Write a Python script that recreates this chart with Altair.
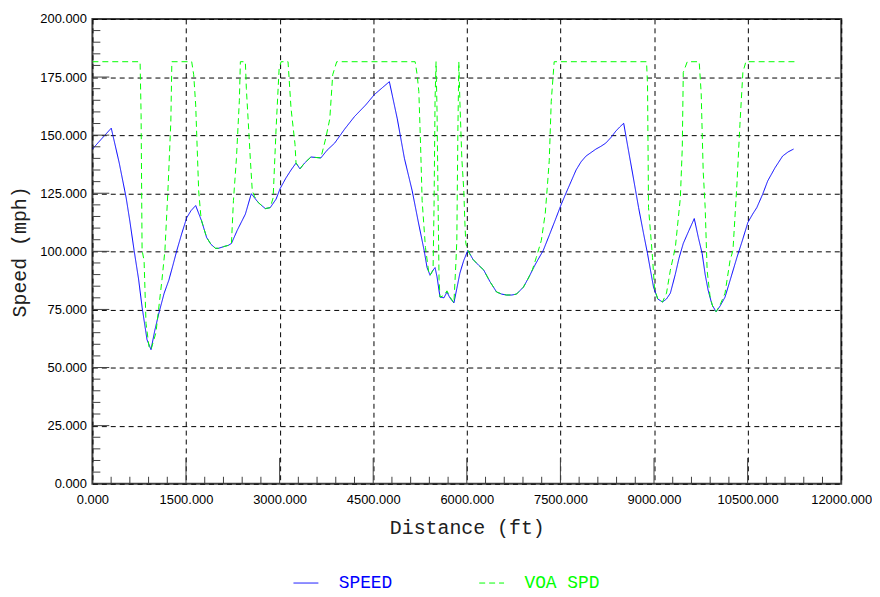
import altair as alt
import pandas as pd

# ---------------- data ----------------
speed_ft = [0, 150, 302, 430, 541, 600, 668, 740, 796, 875, 939, 1000, 1066, 1150, 1225, 1290,
            1353, 1430, 1512, 1580, 1655, 1751, 1830, 1900, 1973, 2021, 2100, 2180, 2228, 2320,
            2451, 2546, 2658, 2770, 2849, 2944, 3008, 3100, 3183, 3263, 3326, 3400, 3502, 3580,
            3661, 3760, 3883, 4042, 4200, 4380, 4520, 4650, 4759, 4886, 5000, 5125, 5220, 5316,
            5363, 5411, 5459, 5491, 5523, 5570, 5634, 5682, 5729, 5793, 5840, 5889, 5950, 6016,
            6100, 6190, 6270, 6370, 6477, 6560, 6637, 6720, 6796, 6907, 6987, 7100, 7225, 7330,
            7432, 7510, 7592, 7670, 7751, 7830, 7910, 7990, 8069, 8150, 8228, 8310, 8387, 8450,
            8514, 8580, 8658, 8753, 8830, 8896, 8992, 9060, 9135, 9200, 9262, 9340, 9400, 9469,
            9560, 9645, 9710, 9772, 9820, 9867, 9930, 9995, 10060, 10138, 10230, 10329, 10420,
            10504, 10580, 10647, 10740, 10822, 10940, 11061, 11150, 11236]
speed_mph = [144, 148.5, 153, 138, 123, 113, 100.4, 88, 76, 62, 57.7, 66, 73.5, 82, 87.6, 94,
             100.4, 107.5, 114.5, 117.5, 119.7, 113, 106, 103, 101.3, 101.3, 102, 102.6, 103.4, 109,
             116, 124.8, 121, 118.4, 118.8, 122.5, 127, 131.5, 135, 138, 135.5, 138, 140.6, 140.4,
             140.2, 143.5, 146.6, 152.6, 158, 163, 167.5, 170.5, 173, 157, 140, 126, 113, 100.4,
             93, 89.7, 91.9, 93, 89, 80.3, 80, 82.5, 80, 77.8, 84, 90.6, 96, 100.4,
             96.5, 94, 92, 87, 82.5, 81.6, 81.2, 81.2, 81.6, 84.6, 88.5, 94.5, 100.4, 107.5,
             114.5, 120, 125.2, 130, 135, 138.5, 141, 142.5, 144, 145.2, 146.6, 149, 151.7, 153.5,
             155.1, 145, 133.3, 118.8, 108, 99, 84.6, 79.5, 78.2, 79.5, 82, 90, 97, 103.4,
             109, 114.1, 106, 99, 90, 83.3, 77, 74, 76.5, 80.3, 88.5, 97.4, 105,
             112.4, 116, 118.8, 124.5, 130.3, 136, 141, 142.8, 144]

voa_ft = [0, 764, 780, 796, 828, 859, 907, 939, 1018, 1114, 1162, 1210, 1257, 1273, 1591, 1623,
          1655, 1703, 1735, 1751, 1830, 1900, 1973, 2021, 2100, 2180, 2228, 2260, 2308, 2355,
          2371, 2451, 2467, 2499, 2530, 2562, 2600, 2658, 2770, 2849, 2896, 2944, 2992, 3024,
          3135, 3183, 3247, 3263, 3326, 3400, 3502, 3580, 3661, 3740, 3804, 3851, 3915, 5172,
          5204, 5231, 5257, 5284, 5337, 5390, 5411, 5459, 5475, 5491, 5507, 5523, 5540, 5555,
          5570, 5634, 5682, 5729, 5793, 5825, 5840, 5856, 5872, 5889, 5920, 5952, 5968, 5984,
          6016, 6100, 6190, 6270, 6370, 6477, 6560, 6637, 6720, 6796, 6907, 6987, 7050, 7114,
          7194, 7257, 7289, 7321, 7353, 7400, 8880, 8896, 8912, 8976, 9008, 9060, 9135, 9200,
          9262, 9342, 9422, 9453, 9469, 9533, 9724, 9756, 9788, 9820, 9851, 9899, 9950, 9995,
          10060, 10138, 10218, 10265, 10329, 10377, 10424, 10472, 11252]
voa_mph = [181.6, 181.6, 159, 100.4, 96, 69, 59, 57.7, 65, 87.6, 100.4, 126, 156, 181.6, 181.6, 176,
           163, 126, 116, 113, 106, 103, 101.3, 101.3, 102, 102.6, 103.4, 121.8, 140, 165,
           181.6, 181.6, 170, 155, 140, 126, 123.5, 121, 118.4, 118.8, 123, 153, 178.6, 181.6,
           181.6, 161.5, 146, 138, 135.5, 138, 140.6, 140.4, 140.2, 148.7, 157, 176, 181.6, 181.6,
           176, 168.8, 147.5, 121.8, 101.7, 91, 89.7, 91.9, 120, 165, 181.6, 160, 120, 88,
           80.3, 81, 83, 80.5, 77.8, 95, 104.7, 150, 181.6, 164.5, 140, 126, 113, 103.4,
           100.4, 96.5, 94, 92, 87, 82.5, 81.6, 81.2, 81.2, 81.6, 84.6, 88.5, 92, 97.4,
           104.7, 116.3, 127.4, 139, 164.5, 181.6, 181.6, 171.8, 118.8, 97.4, 84, 79.5, 78.2, 82,
           91.9, 101.7, 123, 144.5, 177, 181.6, 181.6, 168, 134.6, 118.8, 91.9, 80.3, 75.5, 74,
           77, 82, 96, 100.4, 129, 154.7, 177, 181.6, 181.6]

series_names = ["SPEED", "VOA SPD"]
series_colors = ["#0000ff", "#00ff00"]
series_dash = [[1, 0], [6, 4]]

x_label_values = [0, 1500, 3000, 4500, 6000, 7500, 9000, 10500, 12000]
y_label_values = [0, 25, 50, 75, 100, 125, 150, 175, 200]
x_major_ticks = [1500, 3000, 4500, 6000, 7500, 9000, 10500]
y_major_ticks = [25, 50, 75, 100, 125, 150, 175]
x_minor_ticks = [v for v in range(300, 12000, 300) if v % 1500 != 0]
y_minor_ticks = [v for v in range(5, 200, 5) if v % 25 != 0]

# ---------------- layout ----------------
W, H = 754, 468
AXIS_COLOR = "#404040"

df = pd.concat([
    pd.DataFrame({"ft": speed_ft, "mph": speed_mph, "series": series_names[0]}),
    pd.DataFrame({"ft": voa_ft, "mph": voa_mph, "series": series_names[1]}),
], ignore_index=True)

xs = alt.Scale(domain=[0, 12000], nice=False, zero=False)
ys = alt.Scale(domain=[0, 200], nice=False, zero=False)

x_axis = alt.Axis(
    values=x_label_values, format=".3f", title="Distance (ft)",
    grid=True, gridColor="#000000", gridDash=[5, 4], gridOpacity=1, gridWidth=1,
    ticks=False, tickSize=0, domain=False,
    labelFont="Liberation Sans", labelFontSize=13, labelColor="#000000",
    labelPadding=10, labelFlush=False, labelOverlap=False,
    titleFont="Liberation Mono", titleFontSize=20, titleFontWeight="normal",
    titleColor="#202020", titleY=50, titleBaseline="alphabetic",
)
y_axis = alt.Axis(
    values=y_label_values, format=".3f", title="Speed (mph)",
    grid=True, gridColor="#000000", gridDash=[5, 4], gridOpacity=1, gridWidth=1,
    ticks=False, tickSize=0, domain=False,
    labelFont="Liberation Sans", labelFontSize=13, labelColor="#000000",
    labelPadding=6, labelFlush=False, labelOverlap=False,
    titleFont="Liberation Mono", titleFontSize=20, titleFontWeight="normal",
    titleColor="#202020", titleAngle=270, titleX=-73, titleY=H / 2,
    titleAlign="center", titleBaseline="middle",
)

legend = alt.Legend(
    title=None, orient="none", legendX=202, legendY=555, direction="horizontal",
    symbolType="stroke", symbolSize=625, symbolStrokeWidth=1,
    labelFont="Liberation Mono", labelFontSize=18, labelOffset=20,
    columnPadding=84, padding=0,
    labelColor=alt.ExprRef("datum.value == 'SPEED' ? '#0000ff' : '#00ff00'"),
)

lines = alt.Chart(df).mark_line(strokeWidth=1, clip=True).encode(
    x=alt.X("ft:Q", scale=xs, axis=x_axis),
    y=alt.Y("mph:Q", scale=ys, axis=y_axis),
    color=alt.Color("series:N", scale=alt.Scale(domain=series_names, range=series_colors),
                    legend=legend),
    strokeDash=alt.StrokeDash("series:N", scale=alt.Scale(domain=series_names, range=series_dash),
                              legend=legend),
)


def yticks(vals, length):
    return alt.Chart(pd.DataFrame({"v": vals})).mark_rule(color=AXIS_COLOR, strokeWidth=1).encode(
        y=alt.Y("v:Q", scale=ys, axis=y_axis), x=alt.value(0), x2=alt.value(length))


def xticks(vals, length):
    return alt.Chart(pd.DataFrame({"v": vals})).mark_rule(color=AXIS_COLOR, strokeWidth=1).encode(
        x=alt.X("v:Q", scale=xs, axis=x_axis), y=alt.value(H), y2=alt.value(H - length))


chart = alt.layer(
    lines,
    yticks(y_minor_ticks, 8), yticks(y_major_ticks, 17),
    xticks(x_minor_ticks, 7), xticks(x_major_ticks, 26),
).properties(
    width=W, height=H,
    autosize=alt.AutoSizeParams(type="none"),
    padding={"left": 85, "top": 9, "right": 31, "bottom": 108},
    background="#ffffff",
).configure_view(stroke=AXIS_COLOR, strokeWidth=2)

chart.save("out.html", embed_options={"renderer": "svg", "actions": False})
